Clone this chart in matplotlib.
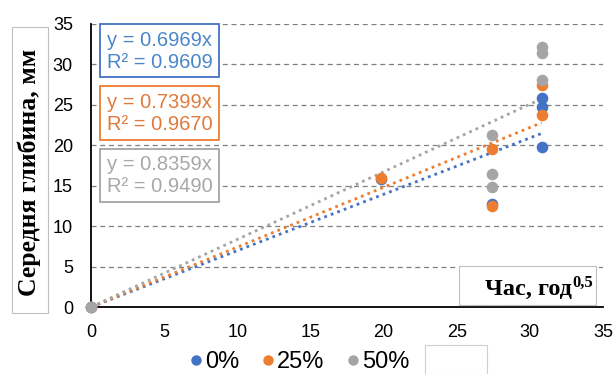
import matplotlib
matplotlib.use("Agg")
import matplotlib.pyplot as plt
from matplotlib.patches import Rectangle
from matplotlib.lines import Line2D
import numpy as np

series_names = ["0%", "25%", "50%"]
colors = ["#4472C4", "#ED7D31", "#A5A5A5"]
text_colors = ["#4A86C8", "#E07A3A", "#A8A8A8"]

x0 = [0, 19.8, 27.4, 30.8, 30.8, 30.8]
y0 = [0, 15.8, 12.7, 25.8, 24.7, 19.8]
x25 = [0, 19.8, 27.4, 27.4, 30.8, 30.8]
y25 = [0, 15.9, 19.6, 12.5, 27.4, 23.7]
x50 = [0, 27.4, 27.4, 27.4, 30.8, 30.8, 30.8]
y50 = [0, 21.3, 16.5, 14.8, 32.2, 31.4, 28.1]

slopes = [0.6969, 0.7399, 0.8359]
r2 = [0.9609, 0.9670, 0.9490]

xs = [x0, x25, x50]
ys = [y0, y25, y50]

W, H = 614, 374
def fx(px):
    return px / W
def fy(py):
    return 1 - py / H

fig = plt.figure(figsize=(6.14, 3.74), dpi=100)
ax = fig.add_axes([fx(91), fy(307), (603 - 91) / W, (307 - 24) / H])

ax.set_xlim(0, 35)
ax.set_ylim(0, 35)
ax.set_xticks(range(0, 36, 5))
ax.set_yticks(range(0, 36, 5))
ax.yaxis.grid(True, linestyle=(0, (4, 3)), color="#7f7f7f", linewidth=0.9)
ax.set_axisbelow(True)
for s in ["top", "right"]:
    ax.spines[s].set_visible(False)
ax.spines["left"].set_linewidth(1.3)
ax.spines["bottom"].set_linewidth(1.3)
ax.tick_params(length=0, labelsize=13)
ax.tick_params(axis="x", pad=12)
ax.tick_params(axis="y", pad=13)
for lab in ax.get_xticklabels() + ax.get_yticklabels():
    lab.set_fontfamily("Liberation Sans")

# trend lines
for xv, c, k in zip(xs, colors, slopes):
    xx = np.array([0, max(xv)])
    ax.plot(xx, k * xx, linestyle=(0, (1, 1.5)), color=c, linewidth=2, zorder=2)

# points
for xv, yv, c in zip(xs, ys, colors):
    ax.scatter(xv, yv, s=70, color=c, zorder=3, clip_on=False, linewidths=0)

# equation boxes
box_y = [(24, 77), (86, 140), (149, 202)]
for i in range(3):
    t, b = box_y[i]
    fig.patches.append(Rectangle((fx(100), fy(b)), (219 - 100) / W, (b - t) / H,
                                 transform=fig.transFigure, fc="white",
                                 ec=colors[i], lw=1.3, zorder=4))
    fig.text(fx(107), fy(t + 16), f"y = {slopes[i]:.4f}x", ha="left",
             va="center", fontsize=14.5, color=text_colors[i],
             family="Liberation Sans", zorder=5)
    fig.text(fx(107), fy(t + 38), f"R² = {r2[i]:.4f}", ha="left",
             va="center", fontsize=14.5, color=text_colors[i],
             family="Liberation Sans", zorder=5)

# y label box
fig.patches.append(Rectangle((fx(12), fy(313)), 36 / W, 286 / H,
                             transform=fig.transFigure, fc="white",
                             ec="#bfbfbf", lw=0.8))
fig.text(fx(29), fy(172), "Середня глибина, мм", rotation=90,
         ha="center", va="center", fontsize=18.5, fontweight="bold",
         family="Liberation Serif")

# x label box
fig.patches.append(Rectangle((fx(459), fy(305)), 137 / W, 39 / H,
                             transform=fig.transFigure, fc="white",
                             ec="#bfbfbf", lw=0.8, zorder=5))
fig.text(fx(572), fy(295), "Час, год", ha="right", va="baseline",
         fontsize=17.5, fontweight="bold", family="Liberation Serif", zorder=6)
fig.text(fx(572), fy(287), "0,5", ha="left", va="baseline",
         fontsize=12, fontweight="bold", family="Liberation Serif", zorder=6)

# legend
handles = [Line2D([], [], marker="o", linestyle="none", markersize=7.5,
                  markerfacecolor=c, markeredgewidth=0) for c in colors]
fig.legend(handles, series_names, loc="center", ncol=3,
           bbox_to_anchor=(fx(298), fy(362)), frameon=False,
           prop={"family": "Liberation Sans", "size": 17},
           handletextpad=0.0, columnspacing=0.8, handlelength=0.8,
           borderpad=0)
fig.patches.append(Rectangle((fx(425), 0), 62 / W, 29 / H,
                             transform=fig.transFigure, fc="white",
                             ec="#d0d0d0", lw=0.8))

fig.savefig("out.png", dpi=100)
